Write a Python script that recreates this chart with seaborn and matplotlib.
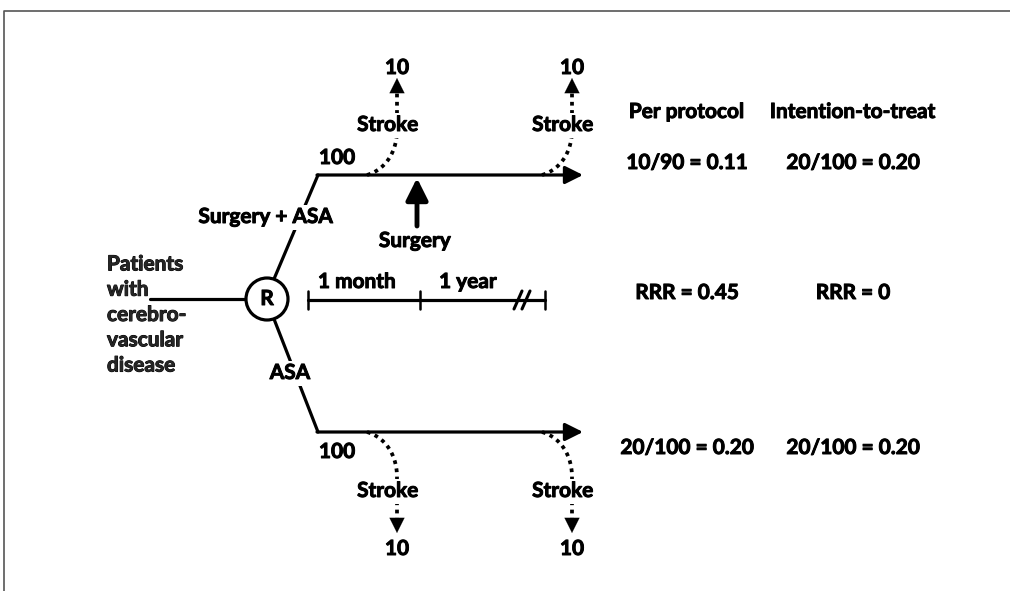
import numpy as np
import matplotlib
matplotlib.use("Agg")
import matplotlib.pyplot as plt
import matplotlib.patheffects as pe
import seaborn as sns

# ---- data ----
arms = ["Surgery + ASA", "ASA"]
arm_n = [100, 100]
strokes_early = [10, 10]
strokes_late = [10, 10]
pp_events = [10, 20]
pp_denom = [90, 100]
itt_events = [20, 20]
itt_denom = [100, 100]
col_titles = ["Per protocol", "Intention-to-treat"]
time_labels = ["1 month", "1 year"]
patients_label = "Patients\nwith\ncerebro-\nvascular\ndisease"

sns.set_theme(style="white")
plt.rcParams["font.family"] = ["Lato", "DejaVu Sans"]

W, H = 1010, 591
fig = plt.figure(figsize=(W / 100, H / 100), dpi=100)
ax = fig.add_axes([0, 0, 1, 1])
ax.set_xlim(0, W)
ax.set_ylim(H, 0)
ax.axis("off")

LW = 2.3
FS = 15
bold = [pe.withStroke(linewidth=0.7, foreground="black")]
txt = dict(fontsize=FS, fontweight="bold", color="black", ha="center",
           va="center", path_effects=bold)
wbox = dict(boxstyle="square,pad=0.12", fc="white", ec="none")

# frame
ax.plot([4, 4, W], [H, 11, 11], color="#555555", lw=1.2)

# patients and randomisation
ax.text(107, 315, patients_label, fontsize=FS, fontweight="bold", ha="left",
        va="center", linespacing=1.33, path_effects=bold)
cx, cy, r = 267, 299, 21
ax.plot([150, cx - r], [cy, cy], color="black", lw=LW)
ax.add_patch(plt.Circle((cx, cy), r, fc="white", ec="black", lw=LW, zorder=3))
ax.text(cx, cy, "R", zorder=4, **txt)

line_y = [175, 432]
x0, x1 = 318, 583
for i, y in enumerate(line_y):
    sgn = -1 if i == 0 else 1
    # branch from circle
    ax.plot([cx + 7, x0], [cy + sgn * 20, y], color="black", lw=LW, zorder=1)
    ax.annotate("", xy=(x1, y), xytext=(x0 - 1, y),
                arrowprops=dict(arrowstyle="-|>,head_length=0.9,head_width=0.45",
                                color="black", lw=LW, shrinkA=0, shrinkB=0))
    # arm label
    lab_y = 217 if i == 0 else 373
    lab_x = 266 if i == 0 else 290
    ax.text(lab_x, lab_y, arms[i], bbox=wbox, zorder=5, **txt)
    ax.text(337, y + (-17 if i == 0 else 20), str(arm_n[i]), **txt)

# stroke arrows (dotted curves)
def stroke_arrow(xs, y_line, y_tip, y_lab, y_num, n, up):
    s = -1 if up else 1
    t = np.linspace(0, 1, 60)
    p0 = np.array([xs, y_line])
    p1 = np.array([xs + 20, y_line + s * 6])
    p2 = np.array([xs + 30, y_line + s * 25])
    p3 = np.array([xs + 30, y_line + s * 45])
    pts = ((1 - t) ** 3)[:, None] * p0 + (3 * (1 - t) ** 2 * t)[:, None] * p1 \
        + (3 * (1 - t) * t ** 2)[:, None] * p2 + (t ** 3)[:, None] * p3
    y_head = y_tip - s * 14
    px = np.r_[pts[:, 0], xs + 30]
    py = np.r_[pts[:, 1], y_head]
    ax.plot(px, py, color="black", lw=2.7, ls=(0, (1.0, 1.2)),
            dash_capstyle="butt", zorder=2)
    ax.annotate("", xy=(xs + 30, y_tip), xytext=(xs + 30, y_head),
                arrowprops=dict(arrowstyle="-|>,head_length=0.9,head_width=0.45",
                                color="black", lw=0.1, shrinkA=0, shrinkB=0))
    ax.text(xs + 21, y_lab, "Stroke", bbox=wbox, zorder=5, **txt)
    ax.text(xs + 30, y_num, str(n), **txt)

for xs, n in zip([367, 542], strokes_early[:1] + strokes_late[:1]):
    stroke_arrow(xs, line_y[0], 78, 125, 68, n, True)
for xs, n in zip([367, 542], strokes_early[1:] + strokes_late[1:]):
    stroke_arrow(xs, line_y[1], 533, 491, 549, n, False)

# surgery arrow
ax.annotate("", xy=(417, 178), xytext=(417, 226),
            arrowprops=dict(arrowstyle="-|>,head_length=1.1,head_width=0.55",
                            color="black", lw=3.5, shrinkA=0, shrinkB=0))
ax.text(415, 241, "Surgery", **txt)

# timeline
ty = 300
tks = [308, 420, 545]
ax.plot([tks[0], tks[-1]], [ty, ty], color="black", lw=LW)
for tx in tks:
    ax.plot([tx, tx], [ty - 9, ty + 9], color="black", lw=1.8)
ax.text(357, 282, time_labels[0], **txt)
ax.text(468, 282, time_labels[1], **txt)
for dx in (-4, 4):
    ax.plot([518 + dx, 526 + dx], [ty + 9, ty - 9], color="black", lw=2.2)
ax.add_patch(plt.Rectangle((517, ty - 3), 10, 6, fc="white", ec="none", zorder=0.5))

# results table
cols_x = [687, 853]
for x, t in zip(cols_x, col_titles):
    ax.text(x, 112, t, **txt)
pp_rate = [e / d for e, d in zip(pp_events, pp_denom)]
itt_rate = [e / d for e, d in zip(itt_events, itt_denom)]
for i, y in enumerate([163, 448]):
    ax.text(cols_x[0], y, f"{pp_events[i]}/{pp_denom[i]} = {pp_rate[i]:.2f}", **txt)
    ax.text(cols_x[1], y, f"{itt_events[i]}/{itt_denom[i]} = {itt_rate[i]:.2f}", **txt)
rrr_pp = 1 - round(pp_rate[0], 2) / round(pp_rate[1], 2)
rrr_itt = 1 - itt_rate[0] / itt_rate[1]
ax.text(cols_x[0], 293, f"RRR = {rrr_pp:.2f}", **txt)
ax.text(cols_x[1], 293, f"RRR = {rrr_itt:.0f}", **txt)

fig.savefig("out.png", dpi=100, facecolor="white")
